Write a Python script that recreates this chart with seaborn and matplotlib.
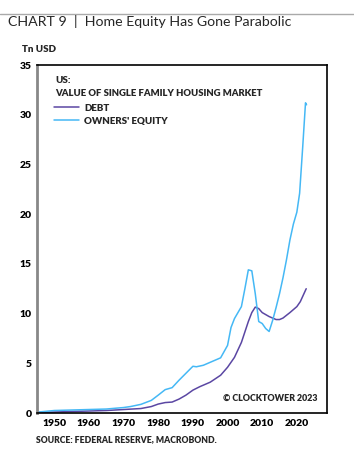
import matplotlib
matplotlib.use("Agg")
import matplotlib.pyplot as plt
import numpy as np
import pandas as pd
import seaborn as sns

# values (Tn USD)
years_eq = [1945.5, 1950, 1955, 1960, 1965, 1970, 1972, 1975, 1978, 1980, 1982, 1984,
            1986, 1988, 1990, 1991, 1993, 1995, 1998, 2000, 2001, 2002, 2004, 2005,
            2006, 2007, 2008, 2009, 2010, 2011, 2012, 2013, 2014, 2015, 2016, 2017,
            2018, 2019, 2020, 2020.8, 2021.7, 2022.5, 2022.8]
equity = [0.1, 0.25, 0.3, 0.35, 0.4, 0.55, 0.65, 0.87, 1.27, 1.8, 2.35, 2.55,
          3.3, 4.0, 4.7, 4.65, 4.8, 5.1, 5.55, 6.8, 8.6, 9.5, 10.7, 12.5,
          14.4, 14.3, 12.0, 9.2, 9.0, 8.5, 8.2, 9.3, 10.6, 12.0, 13.6, 15.4,
          17.4, 19.0, 20.2, 22.1, 26.8, 31.2, 31.0]

years_debt = [1945.5, 1950, 1955, 1960, 1965, 1970, 1975, 1978, 1980, 1982, 1984,
              1986, 1988, 1990, 1992, 1995, 1998, 2000, 2002, 2004, 2006, 2007,
              2008, 2009, 2010, 2012, 2014, 2015, 2016, 2018, 2020, 2021, 2022.7]
debt = [0.05, 0.1, 0.15, 0.2, 0.25, 0.35, 0.45, 0.65, 0.9, 1.05, 1.1,
        1.4, 1.8, 2.3, 2.65, 3.1, 3.8, 4.6, 5.6, 7.1, 9.2, 10.1,
        10.65, 10.5, 10.1, 9.7, 9.4, 9.4, 9.55, 10.1, 10.7, 11.2, 12.5]

xticks = [1950, 1960, 1970, 1980, 1990, 2000, 2010, 2020]
yticks = [0, 5, 10, 15, 20, 25, 30, 35]

debt_color = "#5b47a3"
equity_color = "#45b8f5"

sns.set_style("white")
plt.rcParams["font.family"] = ["Lato", "DejaVu Sans"]

fig = plt.figure(figsize=(3.54, 4.54), dpi=100)
ax = fig.add_axes([0.1045, 0.0903, 0.8192, 0.7665])

df_debt = pd.DataFrame({"year": years_debt, "value": debt})
df_eq = pd.DataFrame({"year": years_eq, "value": equity})
sns.lineplot(data=df_debt, x="year", y="value", color=debt_color, lw=1.1, ax=ax, label="DEBT")
sns.lineplot(data=df_eq, x="year", y="value", color=equity_color, lw=1.1, ax=ax, label="OWNERS' EQUITY")

ax.set_xlim(1945, 2028.7)
ax.set_ylim(0, 35)
ax.set_xticks(xticks)
ax.set_yticks(yticks)
ax.set_xlabel("")
ax.set_ylabel("")
ax.tick_params(direction="in", length=4, width=1, labelsize=7.5, colors="black", pad=4)
for lab in ax.get_xticklabels() + ax.get_yticklabels():
    lab.set_fontweight("heavy")

for s in ["top", "right", "bottom"]:
    ax.spines[s].set_color("black")
    ax.spines[s].set_linewidth(1.2)
ax.spines["left"].set_color("#888888")
ax.spines["left"].set_linewidth(2)

ax.text(0.062, 0.968, "US:", transform=ax.transAxes, fontsize=7, fontweight="heavy", va="top")
ax.text(0.062, 0.93, "VALUE OF SINGLE FAMILY HOUSING MARKET", transform=ax.transAxes,
        fontsize=6.85, fontweight="heavy", va="top")
leg = ax.legend(loc="upper left", bbox_to_anchor=(0.045, 0.9), frameon=False,
                prop={"size": 7, "weight": "heavy"}, handlelength=2.6,
                handletextpad=0.5, labelspacing=0.4, borderaxespad=0)

ax.text(0.969, 0.043, "© CLOCKTOWER 2023", transform=ax.transAxes, fontsize=6.4,
        fontweight="heavy", ha="right", va="center")

fig.add_artist(plt.Line2D([0, 1], [1 - 13.5 / 454, 1 - 13.5 / 454], color="#aaaaaa", lw=1))
fig.text(0.022, 1 - 22 / 454, "CHART 9  |  Home Equity Has Gone Parabolic", fontsize=10.2,
         va="center", ha="left")
fig.text(0.062, 1 - 50 / 454, "Tn USD", fontsize=7, fontweight="heavy", va="center")
fig.text(0.102, 1 - 440 / 454, "SOURCE: FEDERAL RESERVE, MACROBOND.", fontsize=6.2,
         fontweight="heavy", va="center")

fig.savefig("out.png", dpi=100)
